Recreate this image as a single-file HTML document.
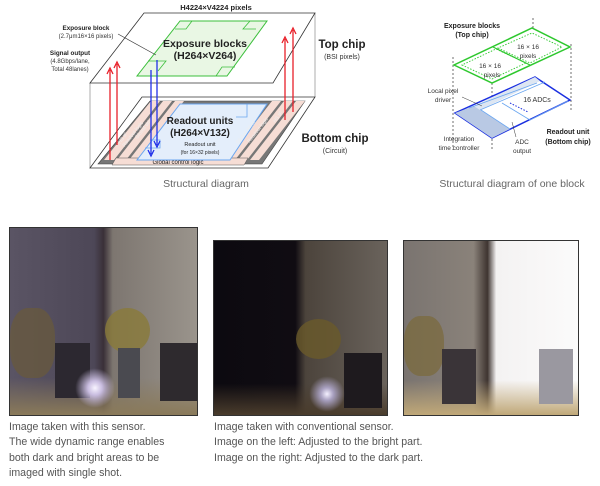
<!DOCTYPE html>
<html><head><meta charset="utf-8"><style>
body{margin:0;width:600px;height:486px;background:#fff;position:relative;overflow:hidden;font-family:"Liberation Sans",sans-serif}
svg{position:absolute;left:0;top:0}
.cap{position:absolute;font-size:10.6px;color:#555;line-height:15.3px}
.ph{position:absolute;overflow:hidden;border:1px solid #333}
.ph div{position:absolute}
</style></head><body>
<svg width="600" height="220" viewBox="0 0 600 220" font-family="Liberation Sans, sans-serif">
<line x1="90" y1="83" x2="90" y2="168" stroke="#999" stroke-width="0.8"/>
<line x1="315" y1="13" x2="315" y2="97" stroke="#999" stroke-width="0.8"/>
<polygon points="142,97 315,97 268,168 90,168" fill="#fff" stroke="#333" stroke-width="0.8"/>
<polygon points="150,101 305,101 262,164 98,164" fill="#777" stroke="#444" stroke-width="0.6"/>
<polygon points="151,101 160,101 114,160 104,160" fill="#f6ddd5"/>
<polygon points="163,101 172,101 126,160 117,160" fill="#f6ddd5"/>
<polygon points="175,101 184,101 138,160 129,160" fill="#f6ddd5"/>
<polygon points="272,101 281,101 235,160 226,160" fill="#f6ddd5"/>
<polygon points="284,101 293,101 247,160 238,160" fill="#f6ddd5"/>
<polygon points="296,101 305,101 259,160 250,160" fill="#f6ddd5"/>
<polygon points="116,158 248,158 244,165 112,165" fill="#f6ddd5" stroke="#555" stroke-width="0.5"/>
<text x="178" y="164" font-size="6" text-anchor="middle" fill="#222">Global control logic</text>
<polygon points="180,104 267,104 230,160 137,160" fill="#e4eefb" stroke="#6aa6f0" stroke-width="1"/>
<polyline points="247,104 247,117 236,117" fill="none" stroke="#6aa6f0" stroke-width="0.8"/>
<polyline points="150,140 160,140 160,148 145,148" fill="none" stroke="#6aa6f0" stroke-width="0.8"/>
<text x="200" y="124" font-size="10" font-weight="bold" text-anchor="middle" fill="#222">Readout units</text>
<text x="200" y="136" font-size="10" font-weight="bold" text-anchor="middle" fill="#222">(H264×V132)</text>
<text x="200" y="146" font-size="5.5" text-anchor="middle" fill="#222">Readout unit</text>
<text x="200" y="154" font-size="5" text-anchor="middle" fill="#222">(for 16×32 pixels)</text>
<g font-size="5" fill="#eee" text-anchor="middle">
<text transform="translate(124,139) rotate(-52)">HS IF</text>
<text transform="translate(134,135) rotate(-52)">Readout logic</text>
<text transform="translate(146,128) rotate(-52)">Global driver</text>
<text transform="translate(247,133) rotate(-52)">Global driver</text>
<text transform="translate(259,131) rotate(-52)">Readout logic</text>
<text transform="translate(279,118) rotate(-52)">HS IF</text>
</g>
<polygon points="144,13 315,13 273,83 90,83" fill="#fff" fill-opacity="0.6" stroke="#333" stroke-width="0.8"/>
<polygon points="180,21 267,21 227,76 137,76" fill="#e9f7e4" stroke="#3cbf3c" stroke-width="1"/>
<g fill="none" stroke="#3cbf3c" stroke-width="0.8">
<polyline points="192,21 186,29 175,29"/><polyline points="250,21 243,29 256,29"/>
<polyline points="148,61 166,61 158,71"/><polyline points="216,76 222,67 235,67"/>
</g>
<text x="205" y="47" font-size="10.5" font-weight="bold" text-anchor="middle" fill="#222">Exposure blocks</text>
<text x="205" y="59" font-size="10.5" font-weight="bold" text-anchor="middle" fill="#222">(H264×V264)</text>
<text x="216" y="10" font-size="7.5" font-weight="bold" text-anchor="middle" fill="#222">H4224×V4224 pixels</text>
<text x="86" y="30" font-size="6.3" font-weight="bold" text-anchor="middle" fill="#222">Exposure block</text>
<text x="86" y="38" font-size="6" text-anchor="middle" fill="#333">(2.7μm16×16 pixels)</text>
<line x1="118" y1="34" x2="156" y2="55" stroke="#333" stroke-width="0.6"/>
<text x="70" y="55" font-size="6.3" font-weight="bold" text-anchor="middle" fill="#222">Signal output</text>
<text x="70" y="63" font-size="6" text-anchor="middle" fill="#333">(4.8Gbps/lane,</text>
<text x="70" y="71" font-size="6" text-anchor="middle" fill="#333">Total 48lanes)</text>
<text x="342" y="48" font-size="11.5" font-weight="bold" text-anchor="middle" fill="#222">Top chip</text>
<text x="342" y="59" font-size="7" text-anchor="middle" fill="#333">(BSI pixels)</text>
<text x="335" y="142" font-size="11.5" font-weight="bold" text-anchor="middle" fill="#222">Bottom chip</text>
<text x="335" y="153" font-size="7" text-anchor="middle" fill="#333">(Circuit)</text>
<g stroke-width="1.3" fill="none">
<line x1="110" y1="160" x2="110" y2="70" stroke="#e8202a"/><polyline points="107,74 110,68 113,74" stroke="#e8202a"/>
<line x1="117" y1="145" x2="117" y2="64" stroke="#e8202a"/><polyline points="114,68 117,62 120,68" stroke="#e8202a"/>
<line x1="285" y1="120" x2="285" y2="39" stroke="#e8202a"/><polyline points="282,43 285,37 288,43" stroke="#e8202a"/>
<line x1="293" y1="112" x2="293" y2="30" stroke="#e8202a"/><polyline points="290,34 293,28 296,34" stroke="#e8202a"/>
<line x1="151" y1="70" x2="151" y2="154" stroke="#2030e8"/><polyline points="148,150 151,156 154,150" stroke="#2030e8"/>
<line x1="157" y1="60" x2="157" y2="145" stroke="#2030e8"/><polyline points="154,141 157,147 160,141" stroke="#2030e8"/>
</g>
<text x="206" y="187" font-size="10.5" text-anchor="middle" fill="#666">Structural diagram</text>

<g stroke="#333" stroke-width="0.7" stroke-dasharray="2,2">
<line x1="453" y1="57" x2="453" y2="150"/><line x1="492" y1="75" x2="492" y2="150"/>
<line x1="533" y1="18" x2="533" y2="30"/><line x1="571" y1="44" x2="571" y2="110"/>
</g>
<polygon points="455,113 492,138 570,100 535,77" fill="#fff" stroke="#1a2fe0" stroke-width="1.5"/>
<polygon points="455,113 492,138 510,129 474,106" fill="#b9c9e4"/>
<polygon points="474,106 535,77 540,81 480,110" fill="#dde6f2"/>
<g stroke="#6aa6f0" stroke-width="0.8" fill="none">
<line x1="469" y1="108" x2="537" y2="83"/><line x1="480" y1="110" x2="545" y2="82"/>
<polyline points="502,103 530,120 568,101"/><line x1="481" y1="110" x2="510" y2="129"/>
</g>
<line x1="510" y1="103" x2="528" y2="112" stroke="#1a2fe0" stroke-width="1" stroke-dasharray="1.5,1.5"/>
<polygon points="454,65 492,83 570,47 532,28" fill="#fff" stroke="#2ec82e" stroke-width="1.5"/>
<line x1="493" y1="47" x2="530" y2="65" stroke="#2ec82e" stroke-width="1.2"/>
<polygon points="462,65 492,79 526,63 496,49" fill="none" stroke="#2ec82e" stroke-width="0.9" stroke-dasharray="1.5,1.5"/>
<polygon points="498,48 530,63 562,47 532,33" fill="none" stroke="#2ec82e" stroke-width="0.9" stroke-dasharray="1.5,1.5"/>
<text x="490" y="68" font-size="6.5" text-anchor="middle" fill="#333">16 × 16</text>
<text x="492" y="77" font-size="6.5" text-anchor="middle" fill="#333">pixels</text>
<text x="528" y="49" font-size="6.5" text-anchor="middle" fill="#333">16 × 16</text>
<text x="528" y="58" font-size="6.5" text-anchor="middle" fill="#333">pixels</text>
<text x="472" y="28" font-size="7" font-weight="bold" text-anchor="middle" fill="#222">Exposure blocks</text>
<text x="472" y="37" font-size="7" font-weight="bold" text-anchor="middle" fill="#222">(Top chip)</text>
<text x="443" y="93" font-size="6.5" text-anchor="middle" fill="#333">Local pixel</text>
<text x="443" y="102" font-size="6.5" text-anchor="middle" fill="#333">driver</text>
<line x1="462" y1="97" x2="482" y2="106" stroke="#333" stroke-width="0.5"/>
<text x="537" y="102" font-size="7" text-anchor="middle" fill="#333">16 ADCs</text>
<text x="459" y="141" font-size="6.5" text-anchor="middle" fill="#333">Integration</text>
<text x="459" y="150" font-size="6.5" text-anchor="middle" fill="#333">time controller</text>
<text x="522" y="144" font-size="6.5" text-anchor="middle" fill="#333">ADC</text>
<text x="522" y="153" font-size="6.5" text-anchor="middle" fill="#333">output</text>
<line x1="516" y1="137" x2="512" y2="122" stroke="#333" stroke-width="0.5"/>
<text x="568" y="134" font-size="7" font-weight="bold" text-anchor="middle" fill="#222">Readout unit</text>
<text x="568" y="144" font-size="7" font-weight="bold" text-anchor="middle" fill="#222">(Bottom chip)</text>
<text x="512" y="187" font-size="10.5" text-anchor="middle" fill="#666">Structural diagram of one block</text>
</svg>

<div class="ph" style="left:9px;top:227px;width:187px;height:187px;background:
linear-gradient(180deg,rgba(0,0,0,0) 80%,#8a7a5a 100%),
linear-gradient(90deg,#5a5464 0,#4d4757 45%,#3a3038 50%,#7d7670 55%,#9a948c 100%)">
<div style="left:0;top:80px;width:45px;height:70px;background:#6a5a3a;border-radius:40%;opacity:.7"></div>
<div style="left:95px;top:80px;width:45px;height:45px;background:#8a7a3a;border-radius:50%;opacity:.8"></div>
<div style="left:45px;top:115px;width:35px;height:55px;background:#2c2830"></div>
<div style="left:150px;top:115px;width:38px;height:58px;background:#2e2a2e"></div>
<div style="left:108px;top:120px;width:22px;height:50px;background:#4a4a50"></div>
<div style="left:65px;top:140px;width:40px;height:40px;border-radius:50%;background:radial-gradient(circle,#f8f4ff 0,#c9bde0 25%,rgba(120,110,140,0) 70%)"></div>
</div>
<div class="ph" style="left:213px;top:240px;width:173px;height:174px;background:
linear-gradient(180deg,rgba(0,0,0,0) 82%,#4a3c2c 100%),
linear-gradient(90deg,#0c0a10 0,#100c12 47%,#4c443c 53%,#6a635c 100%)">
<div style="left:82px;top:78px;width:45px;height:40px;background:#6a5a2a;border-radius:50%;opacity:.8"></div>
<div style="left:130px;top:112px;width:38px;height:55px;background:#1e1a1e"></div>
<div style="left:95px;top:135px;width:36px;height:36px;border-radius:50%;background:radial-gradient(circle,#f4f0ff 0,#a8a0c0 25%,rgba(0,0,0,0) 70%)"></div>
</div>
<div class="ph" style="left:403px;top:240px;width:174px;height:174px;background:
linear-gradient(180deg,rgba(0,0,0,0) 80%,#c0a878 100%),
linear-gradient(90deg,#7a7470 0,#8a827a 40%,#3e3430 48%,#f4f2f2 53%,#fbfbfb 100%)">
<div style="left:0;top:75px;width:40px;height:60px;background:#7a6a3a;border-radius:40%;opacity:.7"></div>
<div style="left:38px;top:108px;width:34px;height:55px;background:#3a3438"></div>
<div style="left:135px;top:108px;width:34px;height:55px;background:#9a98a0"></div>
</div>

<div class="cap" style="left:9px;top:420px">Image taken with this sensor.<br>The wide dynamic range enables<br>both dark and bright areas to be<br>imaged with single shot.</div>
<div class="cap" style="left:214px;top:420px">Image taken with conventional sensor.<br>Image on the left: Adjusted to the bright part.<br>Image on the right: Adjusted to the dark part.</div>
</body></html>
